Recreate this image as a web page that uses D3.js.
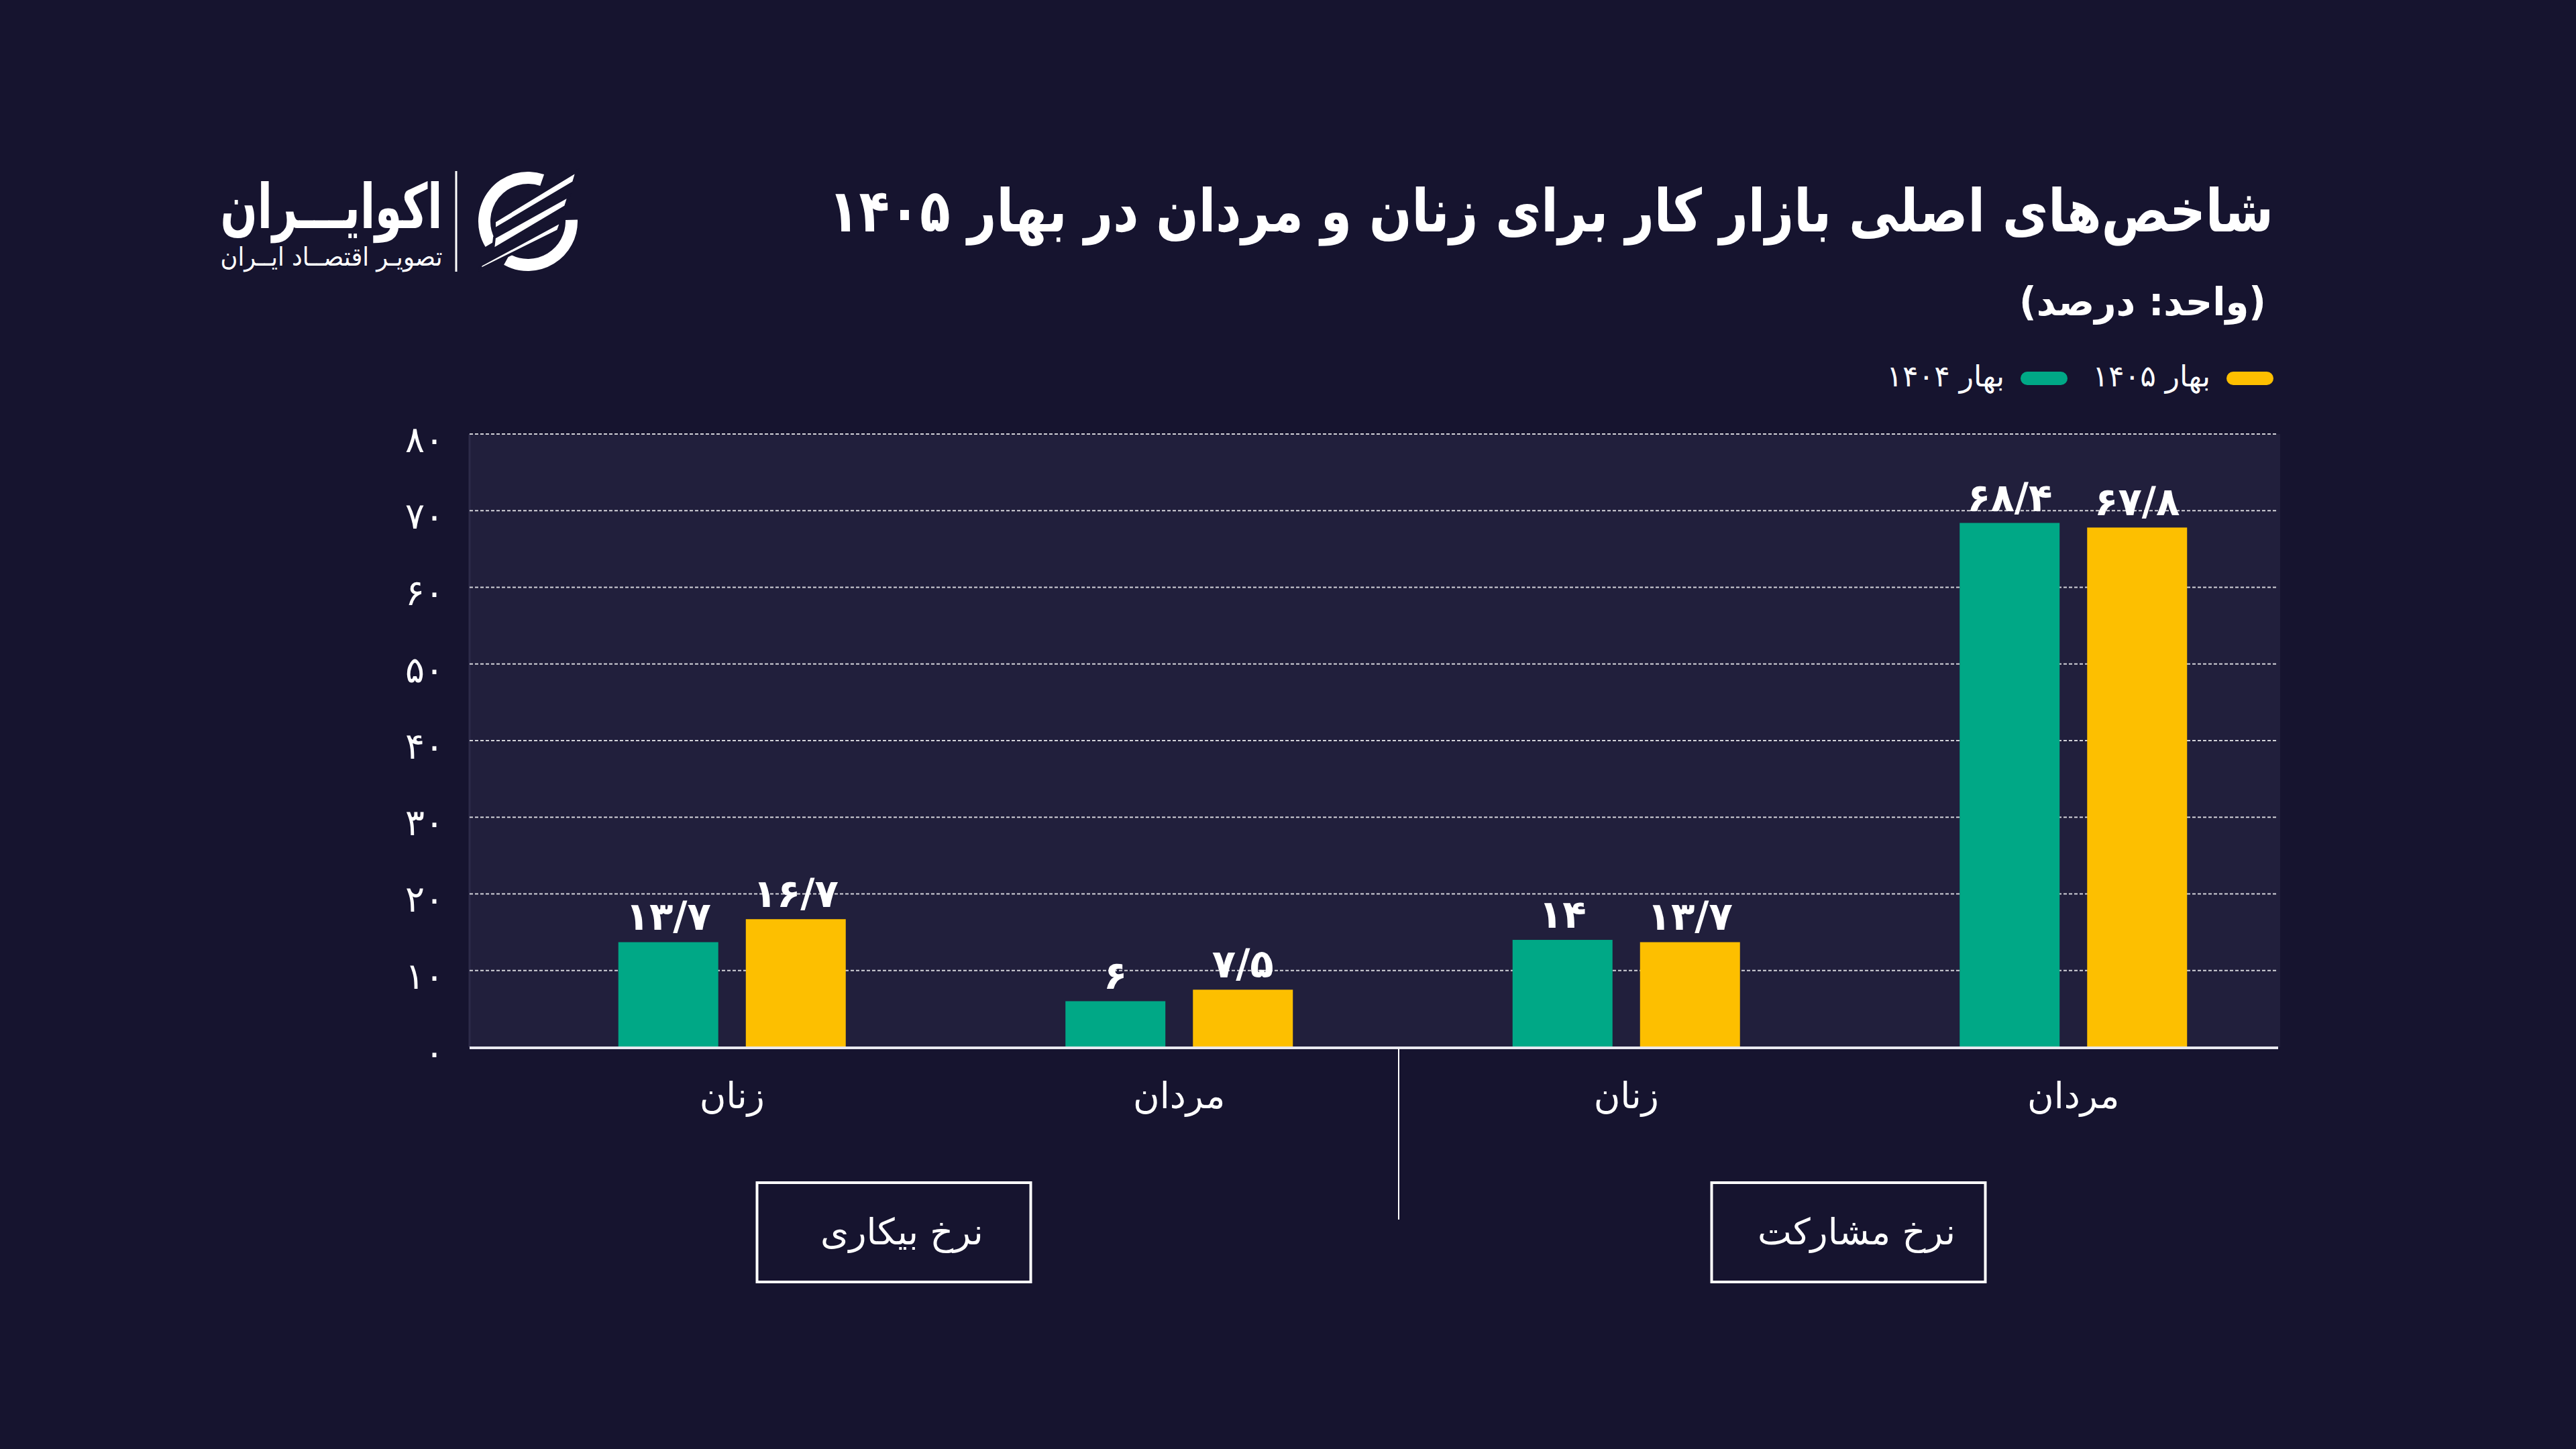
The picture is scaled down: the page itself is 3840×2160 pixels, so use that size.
<!DOCTYPE html>
<html lang="fa">
<head>
    <meta charset="UTF-8">
    <title>شاخص‌های اصلی بازار کار</title>
    <script src="https://d3js.org/d3.v7.min.js"></script>
    <style>
        body { margin: 0; background: #16142f; }
        svg text { font-family: "DejaVu Sans", sans-serif; fill: #ffffff; }
    </style>
</head>
<body>
<svg id="chart" width="3840" height="2160"></svg>
<script>
    // data
    const categories = ['زنان', 'مردان', 'زنان', 'مردان'];
    const groupNames = ['نرخ بیکاری', 'نرخ مشارکت'];
    const seriesNames = ['بهار ۱۴۰۴', 'بهار ۱۴۰۵'];
    const spring1404 = [13.7, 6, 14, 68.4];
    const spring1405 = [16.7, 7.5, 13.7, 67.8];
    const yTicks = [0, 10, 20, 30, 40, 50, 60, 70, 80];

    const colors = ['#00a886', '#fdbf00'];
    const titleText = 'شاخص‌های اصلی بازار کار برای زنان و مردان در بهار ۱۴۰۵';
    const subtitleText = '(واحد: درصد)';

    // persian digits, "/" as decimal mark
    const toFa = v => String(v).replace(/\d/g, d => '۰۱۲۳۴۵۶۷۸۹'[d]).replace('.', '/');

    const svg = d3.select('#chart');
    const plot = { left: 700, right: 3399, top: 647, bottom: 1561 };

    const y = d3.scaleLinear().domain([0, 80]).range([plot.bottom, plot.top]);
    const x0 = d3.scaleBand().domain(d3.range(categories.length)).range([758, 3424]);
    const pairWidth = 339;
    const x1 = d3.scaleBand().domain([0, 1]).range([0, pairWidth]).paddingInner(0.216);
    const pairOffset = (x0.bandwidth() - pairWidth) / 2;

    // page background
    svg.append('rect').attr('width', 3840).attr('height', 2160).attr('fill', '#16142f');

    // plot background
    svg.append('rect')
        .attr('x', plot.left).attr('y', plot.top)
        .attr('width', plot.right - plot.left).attr('height', plot.bottom - plot.top)
        .attr('fill', '#211f3c');
    svg.append('line')
        .attr('x1', plot.left).attr('x2', plot.left)
        .attr('y1', plot.top).attr('y2', plot.bottom)
        .attr('stroke', '#2c2a48').attr('stroke-width', 3);

    // gridlines
    svg.append('g').selectAll('line')
        .data(yTicks.filter(d => d > 0))
        .enter().append('line')
        .attr('x1', plot.left).attr('x2', plot.right - 3)
        .attr('y1', d => y(d)).attr('y2', d => y(d))
        .attr('stroke', 'rgba(255,255,255,0.8)')
        .attr('stroke-width', 2)
        .attr('stroke-dasharray', '5,3');

    // y tick labels
    svg.append('g').selectAll('text')
        .data(yTicks)
        .enter().append('text')
        .attr('x', 662)
        .attr('y', d => y(d) + 8)
        .attr('dy', '0.35em')
        .attr('text-anchor', 'end')
        .style('font-size', '54px')
        .text(d => toFa(d));

    // bars
    const seriesData = [spring1404, spring1405];
    const barGroups = svg.append('g').selectAll('g')
        .data(categories.map((c, i) => i))
        .enter().append('g')
        .attr('transform', i => `translate(${x0(i) + pairOffset},0)`);

    barGroups.selectAll('rect')
        .data(i => seriesData.map((s, k) => ({ k: k, v: s[i] })))
        .enter().append('rect')
        .attr('x', d => x1(d.k))
        .attr('y', d => y(d.v))
        .attr('width', x1.bandwidth())
        .attr('height', d => y(0) - y(d.v))
        .attr('fill', d => colors[d.k]);

    barGroups.selectAll('text')
        .data(i => seriesData.map((s, k) => ({ k: k, v: s[i] })))
        .enter().append('text')
        .attr('x', d => x1(d.k) + x1.bandwidth() / 2)
        .attr('y', d => y(d.v) - 18)
        .attr('text-anchor', 'middle')
        .style('font-size', '58px')
        .style('font-weight', 'bold')
        .text(d => toFa(d.v));

    // baseline
    svg.append('line')
        .attr('x1', plot.left).attr('x2', plot.right - 3)
        .attr('y1', y(0) + 1).attr('y2', y(0) + 1)
        .attr('stroke', '#e9e9f0').attr('stroke-width', 4);

    // category labels
    svg.append('g').selectAll('text')
        .data(categories)
        .enter().append('text')
        .attr('x', (d, i) => x0(i) + x0.bandwidth() / 2)
        .attr('y', 1652)
        .attr('text-anchor', 'middle')
        .style('font-size', '54px')
        .text(d => d);

    // separator between the two groups
    const sepX = (x0(1) + x0.bandwidth() + x0(2)) / 2 - 6;
    svg.append('line')
        .attr('x1', sepX).attr('x2', sepX)
        .attr('y1', 1563).attr('y2', 1818)
        .attr('stroke', '#ffffff').attr('stroke-width', 2);

    // group boxes
    const boxShift = [-92, -2];
    const boxW = 408, boxH = 148, boxTop = 1763;
    const boxes = svg.append('g').selectAll('g')
        .data(groupNames)
        .enter().append('g')
        .attr('transform', (d, g) => {
            const cx = (x0(g * 2) + x0(g * 2 + 1) + x0.bandwidth()) / 2 + boxShift[g];
            return `translate(${cx},${boxTop})`;
        });
    boxes.append('rect')
        .attr('x', -boxW / 2).attr('y', 0)
        .attr('width', boxW).attr('height', boxH)
        .attr('fill', 'none').attr('stroke', '#ffffff').attr('stroke-width', 4);
    boxes.append('text')
        .attr('x', 12).attr('y', boxH / 2 + 18)
        .attr('text-anchor', 'middle')
        .attr('direction', 'rtl')
        .style('font-size', '54px')
        .text(d => d);

    // title + subtitle
    svg.append('text')
        .attr('x', 2312).attr('y', 345)
        .attr('text-anchor', 'middle')
        .attr('direction', 'rtl')
        .attr('textLength', 2154)
        .attr('lengthAdjust', 'spacingAndGlyphs')
        .style('font-size', '88px')
        .style('font-weight', 'bold')
        .text(titleText);

    svg.append('text')
        .attr('x', 3194).attr('y', 470)
        .attr('text-anchor', 'middle')
        .attr('direction', 'rtl')
        .attr('textLength', 368)
        .attr('lengthAdjust', 'spacingAndGlyphs')
        .style('font-size', '58px')
        .style('font-weight', 'bold')
        .text(subtitleText);

    // legend
    const legendPillX = [3012, 3319];
    const legend = svg.append('g').selectAll('g')
        .data(seriesNames)
        .enter().append('g');
    legend.append('rect')
        .attr('x', (d, i) => legendPillX[i]).attr('y', 554)
        .attr('width', 70).attr('height', 20).attr('rx', 10)
        .attr('fill', (d, i) => colors[i]);
    legend.append('text')
        .attr('x', (d, i) => legendPillX[i] - 24)
        .attr('y', 576)
        .attr('text-anchor', 'end')
        .style('font-size', '44px')
        .text(d => d);

    // logo
    const logo = svg.append('g');
    logo.append('text')
        .attr('x', 494).attr('y', 340)
        .attr('text-anchor', 'middle')
        .attr('direction', 'rtl')
        .attr('textLength', 331)
        .attr('lengthAdjust', 'spacingAndGlyphs')
        .style('font-size', '92px')
        .style('font-weight', 'bold')
        .text('اکوایـــران');
    logo.append('text')
        .attr('x', 494).attr('y', 396)
        .attr('text-anchor', 'middle')
        .attr('direction', 'rtl')
        .attr('textLength', 331)
        .attr('lengthAdjust', 'spacingAndGlyphs')
        .style('font-size', '38px')
        .text('تصویـر اقتصــاد ایــران');
    logo.append('line')
        .attr('x1', 680).attr('x2', 680).attr('y1', 255).attr('y2', 405)
        .attr('stroke', '#ffffff').attr('stroke-width', 3);

    const ring = d3.arc().innerRadius(56).outerRadius(74);
    const icon = logo.append('g').attr('transform', 'translate(787,330)');
    icon.append('path')
        .attr('d', ring({ startAngle: -121 * Math.PI / 180, endAngle: 19 * Math.PI / 180 }))
        .attr('fill', '#ffffff');
    icon.append('path')
        .attr('d', ring({ startAngle: 88 * Math.PI / 180, endAngle: 209 * Math.PI / 180 }))
        .attr('fill', '#ffffff');
    const stripes = [
        [[-50, 0], [73, -75], [68, -58], [-50, 12]],
        [[-50, 24], [61, -38], [56, -22], [-52, 42]],
        [[-70, 65], [50, 0], [45, 14], [-72, 72]]
    ];
    icon.selectAll('.stripe')
        .data(stripes)
        .enter().append('path')
        .attr('class', 'stripe')
        .attr('d', d => d3.line()(d) + 'Z')
        .attr('fill', '#ffffff')
        .attr('stroke', '#16142f')
        .attr('stroke-width', 4);
</script>
</body>
</html>
